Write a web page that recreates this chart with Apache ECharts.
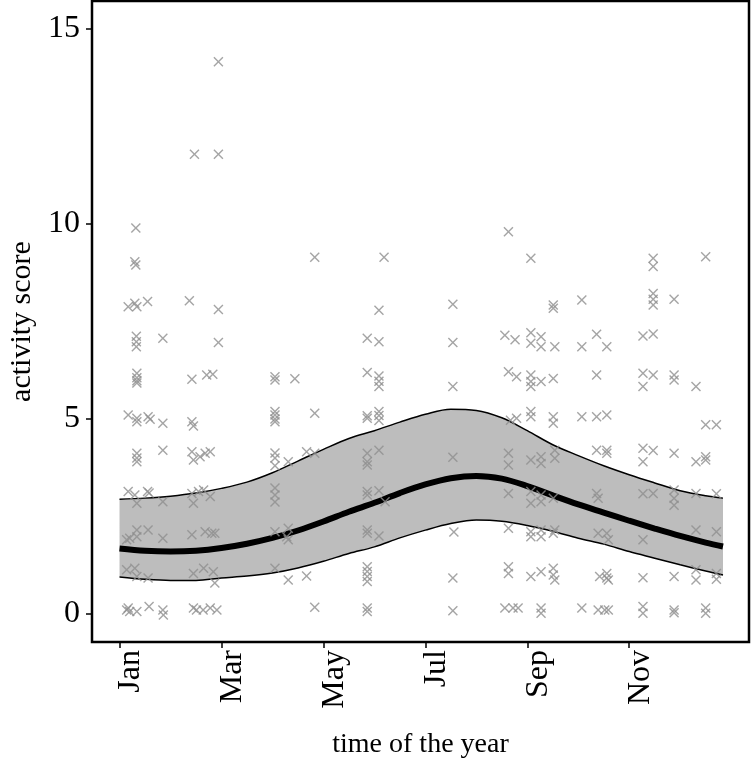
<!DOCTYPE html>
<html>
<head>
<meta charset="utf-8">
<script src="https://cdn.jsdelivr.net/npm/echarts@6/dist/echarts.min.js"></script>
<style>
html,body{margin:0;padding:0;background:#fff;}
#chart{width:753px;height:764px;}
</style>
</head>
<body>
<div id="chart"></div>
<script>
// ---- tick labels ----
const monthTicks = [0, 2, 4, 6, 8, 10];
const monthLabels = ['Jan', 'Mar', 'May', 'Jul', 'Sep', 'Nov'];
const scoreTicks = [0, 5, 10, 15];

// ---- fitted seasonal curve (months since 1 Jan) ----
const curveMonth = [0, 0.5, 1, 1.5, 2, 2.5, 3, 3.5, 4, 4.5, 5, 5.5, 6, 6.5, 7, 7.5, 8, 8.5, 9, 9.5, 10, 10.5, 11, 11.5, 11.84];
const curveMean  = [1.68, 1.62, 1.60, 1.62, 1.69, 1.80, 1.95, 2.14, 2.37, 2.62, 2.85, 3.10, 3.32, 3.48, 3.54, 3.47, 3.28, 3.04, 2.81, 2.60, 2.39, 2.19, 2.00, 1.83, 1.73];
const curveUpper = [2.94, 2.97, 3.02, 3.10, 3.22, 3.38, 3.62, 3.92, 4.22, 4.50, 4.70, 4.92, 5.12, 5.25, 5.22, 5.03, 4.70, 4.34, 4.06, 3.80, 3.57, 3.36, 3.16, 3.03, 2.97];
const curveLower = [0.95, 0.89, 0.86, 0.86, 0.92, 0.97, 1.05, 1.18, 1.35, 1.55, 1.72, 1.95, 2.15, 2.32, 2.41, 2.38, 2.27, 2.12, 1.94, 1.79, 1.60, 1.43, 1.26, 1.10, 1.00];

// ---- observations ----
const ptMonth = [
 0.17,0.17,0.17,0.14,0.20,0.14,0.14,0.17,0.20,
 0.32,0.30,0.32,0.30,0.34,0.33,0.33,0.33,0.34,0.34,0.34,0.34,0.34,0.34,0.34,0.34,0.34,0.30,0.34,0.34,0.34,0.30,0.34,0.34,
 0.55,0.56,0.60,0.55,0.58,0.56,0.56,0.58,
 0.85,0.85,0.85,0.85,0.85,0.85,0.86,
 1.47,1.37,1.42,1.42,1.45,1.42,1.45,1.42,1.45,1.42,1.45,1.45,1.51,
 1.71,1.83,1.58,1.68,1.78,1.55,1.65,1.78,1.68,1.81,1.87,1.65,1.84,1.87,1.64,1.78,
 1.94,1.94,1.94,1.94,1.91,
 3.05,3.05,3.05,3.05,3.05,3.05,3.05,3.05,3.05,3.05,3.05,3.05,3.05,3.05,
 3.28,3.31,3.31,3.31,3.31,
 3.44,3.67,3.83,3.83,3.83,3.67,3.83,
 4.86,4.86,4.86,4.86,4.86,4.86,4.86,4.86,4.86,4.86,4.86,4.86,4.86,4.86,4.86,4.86,4.86,
 5.19,5.09,5.09,5.09,5.09,5.09,5.09,5.09,5.09,5.09,5.09,5.21,5.09,
 6.54,6.54,6.54,6.54,6.56,6.54,6.54,
 7.63,7.56,7.76,7.63,7.79,7.67,7.79,7.63,7.63,7.63,7.63,7.63,7.63,7.56,7.72,7.82,
 8.07,8.07,8.07,8.27,8.27,8.07,8.07,8.07,8.27,8.07,8.07,8.07,8.27,8.27,8.07,8.07,8.27,8.27,8.07,8.07,8.27,8.27,8.07,8.27,8.27,8.27,
 8.51,8.51,8.54,8.51,8.51,8.51,8.54,8.54,8.51,8.51,8.54,8.51,8.51,8.54,
 9.07,9.07,9.36,9.56,9.36,9.07,9.36,9.56,9.36,9.56,9.56,9.36,9.39,9.39,9.56,9.59,9.42,9.56,9.56,9.59,9.07,9.39,9.52,9.59,
 10.47,10.47,10.47,10.47,10.47,10.27,10.47,10.27,10.47,10.27,10.27,10.47,10.27,10.27,10.47,10.27,10.27,10.27,10.27,
 10.88,10.88,10.88,10.88,10.88,10.88,10.88,10.88,10.88,10.88,
 11.50,11.31,11.50,11.71,11.31,11.50,11.50,11.31,11.71,11.31,11.71,11.31,11.31,11.71,11.71,11.50,11.50
];
const ptScore = [
 7.88,5.10,3.14,1.90,1.94,1.13,0.10,0.15,0.06,
 9.90,9.03,8.95,7.97,7.88,7.12,6.98,6.85,6.17,6.06,5.98,5.92,5.02,4.93,4.12,4.00,3.90,3.05,2.84,2.15,1.98,1.17,0.96,0.06,
 8.01,5.06,4.99,3.14,3.10,2.15,0.92,0.19,
 7.07,4.89,4.20,2.88,1.94,0.10,-0.03,
 11.79,8.03,6.02,4.93,4.82,4.16,3.95,3.09,2.84,2.03,1.04,0.15,0.10,
 6.13,6.15,4.03,4.12,4.16,3.14,3.18,3.01,2.11,2.07,2.07,1.17,1.08,0.79,0.10,0.15,
 14.16,11.79,7.81,6.96,0.10,
 6.08,6.00,5.19,5.10,5.00,4.93,4.13,4.00,3.80,3.23,3.05,2.87,2.11,1.17,
 1.98,3.90,2.20,1.90,0.87,
 6.03,4.16,4.12,5.15,9.15,0.97,0.17,
 7.07,6.19,5.08,5.02,4.12,3.90,3.82,3.14,3.05,2.15,2.07,1.21,1.09,0.96,0.83,0.15,0.06,
 9.15,7.79,6.98,6.10,5.97,5.83,5.19,5.09,4.96,4.20,3.16,2.88,2.00,
 7.94,6.96,5.83,4.02,2.10,0.92,0.08,
 9.80,7.15,7.03,6.21,6.08,4.97,5.02,4.12,3.82,3.09,2.20,1.21,1.04,0.15,0.15,0.15,
 9.12,7.21,6.94,7.11,6.85,6.13,5.96,5.83,5.96,5.19,5.06,3.95,4.03,3.86,3.14,2.84,3.05,2.88,2.11,1.98,2.15,1.98,0.96,1.08,0.15,0.02,
 7.92,7.84,6.85,6.04,5.06,4.89,4.20,3.99,2.97,2.07,2.15,1.17,1.00,0.87,
 8.05,6.85,7.17,6.85,6.13,5.06,5.06,5.10,4.20,4.20,4.12,3.09,2.97,2.07,2.07,1.90,0.96,1.04,0.92,0.87,0.15,0.10,0.10,0.10,
 9.12,8.91,8.22,8.07,7.92,7.13,7.18,6.17,6.13,5.83,4.25,4.19,3.90,3.08,3.09,1.90,0.93,0.19,0.02,
 8.07,6.13,6.00,4.12,3.18,2.97,2.79,0.96,0.10,0.03,
 9.16,5.83,4.85,4.85,3.90,4.03,3.95,3.09,3.08,2.15,2.11,1.13,0.87,1.04,0.89,0.15,0.02
];

// ---- build series data ----
const pts = ptMonth.map((m, i) => [m, ptScore[i]]);
// band: stacked as [value, month] so the stacked dimension is the score
const bandBase  = curveMonth.map((m, i) => [curveLower[i], m]);
const bandWidth = curveMonth.map((m, i) => [curveUpper[i] - curveLower[i], m]);
const lowerData = curveMonth.map((m, i) => [m, curveLower[i]]);
const upperData = curveMonth.map((m, i) => [m, curveUpper[i]]);
const meanData  = curveMonth.map((m, i) => [m, curveMean[i]]);

const FONT = "'Liberation Serif', 'Times New Roman', serif";
const CROSS = 'path://M0,1L1,0L5,4L9,0L10,1L6,5L10,9L9,10L5,6L1,10L0,9L4,5Z';
const SM = 0.35;

const chart = echarts.init(document.getElementById('chart'), null, {renderer: 'canvas'});
chart.setOption({
  animation: false,
  backgroundColor: '#ffffff',
  grid: {left: 92, right: 4, top: 1, bottom: 122, show: true, z: 10,
         containLabel: false, outerBoundsMode: 'none',
         borderColor: '#000', borderWidth: 2.5, backgroundColor: 'transparent'},
  xAxis: {
    type: 'value', min: -0.54, max: 12.35,
    name: 'time of the year', nameLocation: 'middle', nameGap: 89,
    nameTextStyle: {fontFamily: FONT, fontSize: 28, color: '#000'},
    axisLine: {show: false, onZero: false},
    splitLine: {show: false},
    axisTick: {show: true, customValues: monthTicks, length: 6, lineStyle: {color: '#000', width: 1.5}},
    axisLabel: {
      customValues: monthTicks, rotate: 90, margin: 8,
      fontFamily: FONT, fontSize: 32, color: '#000',
      formatter: v => '{m|' + (monthLabels[monthTicks.indexOf(Math.round(v))] || '') + '}',
      rich: {m: {fontFamily: FONT, fontSize: 32, color: '#000', lineHeight: 54, verticalAlign: 'bottom'}}
    }
  },
  yAxis: {
    type: 'value', min: -0.72, max: 15.72,
    name: 'activity score', nameLocation: 'middle', nameGap: 54, nameRotate: 90,
    nameTextStyle: {fontFamily: FONT, fontSize: 30, color: '#000'},
    axisLine: {show: false, onZero: false},
    splitLine: {show: false},
    axisTick: {show: true, customValues: scoreTicks, length: 6, lineStyle: {color: '#000', width: 1.5}},
    axisLabel: {customValues: scoreTicks, margin: 12, fontFamily: FONT, fontSize: 32, color: '#000'}
  },
  series: [
    {type: 'line', data: bandBase, encode: {x: 1, y: 0}, stack: 'band', smooth: SM, symbol: 'none',
     lineStyle: {opacity: 0}, z: 1, silent: true},
    {type: 'line', data: bandWidth, encode: {x: 1, y: 0}, stack: 'band', smooth: SM, symbol: 'none',
     lineStyle: {opacity: 0}, areaStyle: {color: '#bdbdbd', opacity: 1}, z: 1, silent: true},
    {type: 'line', data: upperData, smooth: SM, symbol: 'none',
     lineStyle: {color: '#000', width: 1.5}, z: 2, silent: true},
    {type: 'line', data: lowerData, smooth: SM, symbol: 'none',
     lineStyle: {color: '#000', width: 1.5}, z: 2, silent: true},
    {type: 'line', data: meanData, smooth: SM, symbol: 'none',
     lineStyle: {color: '#000', width: 6}, z: 3, silent: true},
    {type: 'scatter', data: pts, symbol: CROSS, symbolSize: 10,
     itemStyle: {color: '#8f8f8f'}, z: 4, silent: true}
  ]
});
</script>
</body>
</html>
